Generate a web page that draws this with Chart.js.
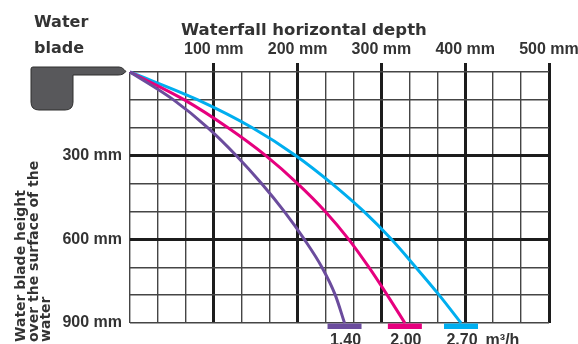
<!DOCTYPE html>
<html>
<head>
<meta charset="utf-8">
<script src="https://cdn.jsdelivr.net/npm/chart.js@4"></script>
<style>
  body { margin: 0; background: #fff; }
  #wrap { width: 578px; height: 344px; }
</style>
</head>
<body>
<div id="wrap"><canvas id="waterfallChart" width="578" height="344"></canvas></div>
<script>
// drop below the blade (mm) and the horizontal depth (mm) each curve reaches there
const dropHeights = [0, 100, 200, 300, 400, 500, 600, 700, 800, 900];
const depth140 = [0, 52, 93, 127, 157, 184, 208, 229, 245, 256];
const depth200 = [0, 65, 117, 162, 200, 233, 261, 285, 307, 328];
const depth270 = [0, 81, 146, 198, 241, 279, 312, 341, 369, 395];

const flowLabels = ['1.40', '2.00', '2.70'];
const flowUnit = 'm³/h';
const flowColors = ['#6b4c9d', '#e6007e', '#00aeef'];

// top axis: grid every 1/3 of 100 mm, labels on the 100 mm lines
const depthTickLabels = ['', '100 mm', '200 mm', '300 mm', '400 mm', '500 mm'];
const depthGrid = [];
for (let i = 0; i <= 15; i++) depthGrid.push(i * 100 / 3);

// left axis: grid every 100 mm
const heightTickLabels = ['', '', '', '300 mm', '', '', '600 mm', '', '', '900 mm'];
const heightMajor = [300, 600];

const textColor = '#333';
const thinLine = '#454545';
const thickLine = '#1c1c1c';

function toPoints(xs, ys) {
  return xs.map((x, i) => ({ x: x, y: ys[i] }));
}

const decor = {
  id: 'decor',
  afterDraw(chart) {
    const ctx = chart.ctx;
    const ca = chart.chartArea;
    const xs = chart.scales.x;
    ctx.save();

    // headings
    ctx.fillStyle = textColor;
    ctx.textAlign = 'left';
    ctx.textBaseline = 'alphabetic';
    ctx.font = 'bold 16px "DejaVu Sans"';
    ctx.fillText('Water', 34, 27);
    ctx.fillText('blade', 34, 53);
    ctx.font = 'bold 16.5px "DejaVu Sans"';
    ctx.fillText('Waterfall horizontal depth', 181, 35);

    // rotated y title
    ctx.font = 'bold 14px "DejaVu Sans"';
    const yTitle = ['Water blade height', 'over the surface of the', 'water'];
    const yBase = [24.5, 37.5, 50];
    yTitle.forEach((line, i) => {
      ctx.save();
      ctx.translate(yBase[i], 342);
      ctx.rotate(-Math.PI / 2);
      ctx.fillText(line, 0, 0);
      ctx.restore();
    });

    // the blade
    ctx.beginPath();
    ctx.moveTo(31, 69);
    ctx.quadraticCurveTo(31, 67, 33, 67);
    ctx.lineTo(119, 67);
    ctx.quadraticCurveTo(122, 67, 124, 69.5);
    ctx.lineTo(126, 71.5);
    ctx.lineTo(123, 74);
    ctx.quadraticCurveTo(121, 75, 118, 75);
    ctx.lineTo(73, 75);
    ctx.lineTo(73, 102);
    ctx.quadraticCurveTo(73, 110, 65, 110);
    ctx.lineTo(39, 110);
    ctx.quadraticCurveTo(31, 110, 31, 102);
    ctx.closePath();
    ctx.fillStyle = '#58585b';
    ctx.fill();
    ctx.strokeStyle = '#2e2e2e';
    ctx.lineWidth = 1;
    ctx.stroke();

    // flow-rate tags under each curve end
    ctx.font = 'bold 16px "Liberation Sans"';
    ctx.textAlign = 'center';
    chart.data.datasets.forEach((ds, i) => {
      const last = ds.data[ds.data.length - 1];
      const px = xs.getPixelForValue(last.x);
      ctx.fillStyle = flowColors[i];
      ctx.fillRect(px - 17, ca.bottom + 0.5, 34, 5.5);
      ctx.fillStyle = textColor;
      ctx.fillText(flowLabels[i], px + 1, 345);
      if (i === chart.data.datasets.length - 1) {
        const w = ctx.measureText(flowLabels[i]).width;
        ctx.textAlign = 'left';
        ctx.fillText(flowUnit, px + 1 + w / 2 + 8, 345);
        ctx.textAlign = 'center';
      }
    });

    ctx.restore();
  }
};

const series = [depth140, depth200, depth270];

const ctx = document.getElementById('waterfallChart').getContext('2d');
const waterfallChart = new Chart(ctx, {
  type: 'line',
  data: {
    datasets: series.map((depths, i) => ({
      label: flowLabels[i] + ' ' + flowUnit,
      data: toPoints(depths, dropHeights),
      borderColor: flowColors[i],
      borderWidth: 3,
      pointRadius: 0,
      fill: false,
      cubicInterpolationMode: 'monotone',
      clip: false
    }))
  },
  options: {
    responsive: false,
    animation: false,
    layout: { padding: { left: 62, top: 40, right: 29, bottom: 21 } },
    plugins: {
      legend: { display: false },
      tooltip: { enabled: false }
    },
    scales: {
      x: {
        type: 'linear',
        position: 'top',
        min: 0,
        max: 500,
        afterBuildTicks: (scale) => {
          scale.ticks = depthGrid.map(v => ({ value: v }));
        },
        afterFit: (scale) => {
          scale.height = 32;
          scale.paddingLeft = 0;
          scale.paddingRight = 0;
        },
        ticks: {
          autoSkip: false,
          maxRotation: 0,
          padding: 4,
          color: textColor,
          font: { family: 'Liberation Sans', size: 16, weight: 'bold' },
          callback: (v, i) => (i % 3 === 0 ? depthTickLabels[i / 3] : '')
        },
        grid: {
          color: (c) => (c.index % 3 === 0 && c.index > 0 ? thickLine : thinLine),
          lineWidth: (c) => (c.index % 3 === 0 && c.index > 0 ? 3 : 1.4),
          tickLength: 9,
          tickWidth: 3,
          tickColor: (c) => (c.index % 3 === 0 && c.index > 0 ? thickLine : 'transparent')
        },
        border: { display: false }
      },
      y: {
        type: 'linear',
        reverse: true,
        min: 0,
        max: 900,
        afterFit: (scale) => {
          scale.width = 68;
          scale.paddingTop = 0;
          scale.paddingBottom = 0;
        },
        ticks: {
          stepSize: 100,
          padding: 8,
          color: textColor,
          font: { family: 'Liberation Sans', size: 16, weight: 'bold' },
          callback: (v) => heightTickLabels[Math.round(v / 100)]
        },
        grid: {
          drawTicks: false,
          color: (c) => (heightMajor.includes(c.tick.value) ? thickLine : thinLine),
          lineWidth: (c) => (heightMajor.includes(c.tick.value) ? 3 : 1.4)
        },
        border: { display: false }
      }
    }
  },
  plugins: [decor]
});
</script>
</body>
</html>
